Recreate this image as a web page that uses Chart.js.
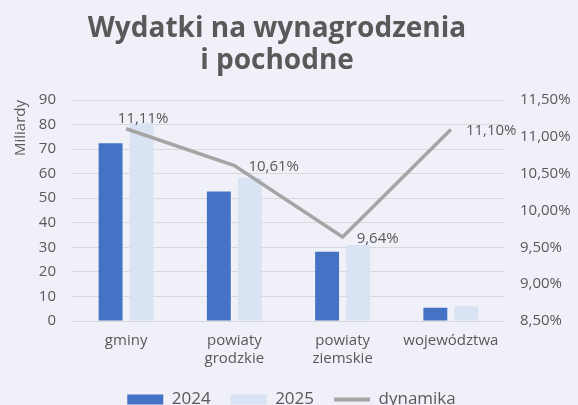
<!DOCTYPE html>
<html>
<head>
<meta charset="utf-8">
<script src="https://cdn.jsdelivr.net/npm/chart.js@4/dist/chart.umd.min.js"></script>
<style>
html,body{margin:0;padding:0;background:#F0F1F8;}
#wrap{width:578px;height:405px;position:relative;}
</style>
</head>
<body>
<div id="wrap"><canvas id="c" width="578" height="405"></canvas></div>
<script>
const categories = [['gminy'], ['powiaty', 'grodzkie'], ['powiaty', 'ziemskie'], ['województwa']];
const values2024 = [72.4, 52.7, 28.2, 5.4];
const values2025 = [80.5, 58.3, 30.9, 6.0];
const dynamika = [11.11, 10.61, 9.64, 11.10];
const seriesNames = ['2024', '2025', 'dynamika'];
const titleLines = ['Wydatki na wynagrodzenia', 'i pochodne'];
const yTitle = 'Miliardy';

const FONT = "'Open Sans', sans-serif";
const TXT = '#595959';
const fmtPct = v => v.toFixed(2).replace('.', ',') + '%';

const labelOffsets = [[17, -10, 'center'], [14, 1, 'left'], [14, 2, 'left'], [15, 1, 'left']];

const dataLabels = {
  id: 'dataLabels',
  afterDatasetsDraw(chart) {
    const meta = chart.getDatasetMeta(2);
    const ctx = chart.ctx;
    ctx.save();
    ctx.font = '15px ' + FONT;
    ctx.fillStyle = TXT;
    ctx.textBaseline = 'middle';
    meta.data.forEach((pt, i) => {
      const o = labelOffsets[i];
      ctx.textAlign = o[2];
      ctx.fillText(fmtPct(dynamika[i]), pt.x + o[0], pt.y + o[1]);
    });
    ctx.restore();
  }
};

const chartTitle = {
  id: 'chartTitle',
  afterDraw(chart) {
    const ctx = chart.ctx;
    ctx.save();
    ctx.font = 'bold 28px ' + FONT;
    ctx.fillStyle = TXT;
    ctx.textAlign = 'center';
    ctx.textBaseline = 'alphabetic';
    titleLines.forEach((t, i) => ctx.fillText(t, 277, 37 + i * 32));
    ctx.restore();
  }
};

new Chart(document.getElementById('c'), {
  type: 'bar',
  data: {
    labels: categories,
    datasets: [
      { label: seriesNames[0], data: values2024, backgroundColor: '#4472C4', yAxisID: 'y', order: 2,
        categoryPercentage: 0.574, barPercentage: 0.77 },
      { label: seriesNames[1], data: values2025, backgroundColor: '#DAE3F3', yAxisID: 'y', order: 2,
        categoryPercentage: 0.574, barPercentage: 0.77 },
      { label: seriesNames[2], data: dynamika, type: 'line', borderColor: '#A5A5A5', backgroundColor: '#A5A5A5',
        borderWidth: 3.5, pointRadius: 0, tension: 0, yAxisID: 'y1', order: 1 }
    ]
  },
  options: {
    responsive: false,
    animation: false,
    layout: { padding: { left: 5, right: 0, top: 100, bottom: -13 } },
    plugins: {
      tooltip: { enabled: false },
      title: { display: false },
      legend: {
        position: 'bottom',
        labels: {
          usePointStyle: true, pointStyleWidth: 36, boxHeight: 10,
          color: TXT, font: { family: FONT, size: 17 }, padding: 20,
          generateLabels(chart) {
            return chart.data.datasets.map((ds, i) => ({
              text: ds.label,
              datasetIndex: i,
              fillStyle: ds.backgroundColor,
              strokeStyle: ds.type === 'line' ? ds.borderColor : ds.backgroundColor,
              lineWidth: ds.type === 'line' ? 4 : 0,
              pointStyle: ds.type === 'line' ? 'line' : 'rect',
              fontColor: TXT,
              hidden: false
            }));
          }
        }
      }
    },
    scales: {
      x: {
        grid: { display: false },
        border: { display: false },
        ticks: { color: TXT, font: { family: FONT, size: 15 }, padding: 3, maxRotation: 0, autoSkip: false }
      },
      y: {
        position: 'left', min: 0, max: 90,
        afterFit(s) { s.width = 67; },
        grid: { color: '#D9D9D9', lineWidth: 1, drawTicks: false },
        border: { display: false },
        ticks: { stepSize: 10, color: TXT, font: { family: FONT, size: 15 }, padding: 16 },
        title: { display: true, text: yTitle, align: 'end', color: TXT, font: { family: FONT, size: 15 }, padding: { top: 7, bottom: 0 } }
      },
      y1: {
        position: 'right', min: 8.5, max: 11.5,
        afterFit(s) { s.width = 73; },
        grid: { display: false, drawTicks: false },
        border: { display: false },
        ticks: { stepSize: 0.5, color: TXT, font: { family: FONT, size: 15 }, padding: 15, callback: v => fmtPct(v) }
      }
    }
  },
  plugins: [dataLabels, chartTitle]
});
</script>
</body>
</html>
